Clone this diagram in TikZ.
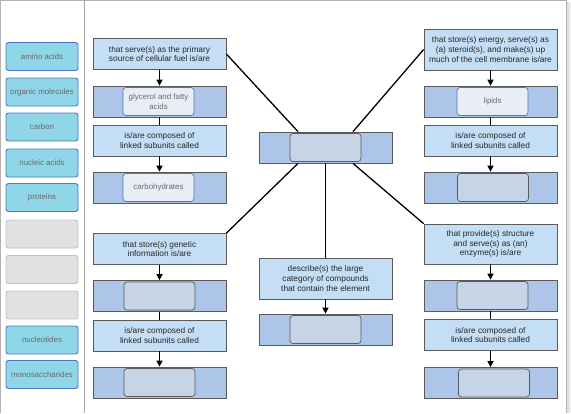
\documentclass[tikz,border=0pt]{standalone}
\usepackage{fontspec}
\setmainfont{Liberation Sans}
\usetikzlibrary{arrows.meta}
\definecolor{bankfill}{HTML}{8FD6E8}
\definecolor{bankedge}{HTML}{4A78C8}
\definecolor{blankfill}{HTML}{E1E1E1}
\definecolor{blankedge}{HTML}{B4C4DC}
\definecolor{askfill}{HTML}{C4DFF5}
\definecolor{bandfill}{HTML}{ADC5E8}
\definecolor{slotfill}{HTML}{C6D4E6}
\definecolor{putfill}{HTML}{E9EDF5}
\definecolor{boxedge}{HTML}{5A5A5A}
\definecolor{labelgrey}{HTML}{6A6A6A}

\begin{document}
\begin{tikzpicture}[x=1pt,y=-1pt,
  font=\fontsize{7.9}{9.6}\selectfont,
  bank/.style={draw=bankedge, fill=bankfill, rounded corners=2.5pt, line width=0.9pt,
    minimum width=72pt, minimum height=28pt, text=labelgrey, inner sep=0pt},
  blank/.style={bank, draw=blankedge, fill=blankfill},
  ask/.style={draw=boxedge, fill=askfill, line width=0.7pt, minimum width=133pt,
    minimum height=31pt, align=center, inner sep=0pt, text=black!85,
    font=\fontsize{8.3}{9.8}\selectfont},
  band/.style={draw=boxedge, fill=bandfill, line width=0.7pt, minimum width=133pt,
    minimum height=31pt},
  slot/.style={draw=boxedge, fill=slotfill, rounded corners=3pt, line width=0.7pt,
    minimum width=71pt, minimum height=28pt, align=center, inner sep=0pt},
  put/.style={slot, draw=bankedge, fill=putfill, text=labelgrey},
  link/.style={line width=1.3pt},
  flow/.style={line width=1.3pt, -{Triangle[length=6pt,width=6pt]}}
]
\useasboundingbox (0,0) rectangle (571,413);

% Frame and divider
\fill[gray!12] (566,2) rectangle (571,413);
\fill[gray!25] (566,2) rectangle (568.5,413);
\draw[gray!60] (0.5,413) -- (0.5,0.5) -- (566,0.5) -- (566,413);
\draw[gray!70, line width=0.8pt] (84,0) -- (84,413);

% Word bank
\node[bank] (amino) at (42,56.5) {amino acids};
\node[bank] (organic) at (42,92) {organic molecules};
\node[bank] (carbon) at (42,127) {carbon};
\node[bank] (nucleic) at (42,163) {nucleic acids};
\node[bank] (proteins) at (42,197.5) {proteins};
\node[blank] (empty1) at (42,234) {};
\node[blank] (empty2) at (42,269.5) {};
\node[blank] (empty3) at (42,305) {};
\node[bank] (nucleotides) at (42,340) {nucleotides};
\node[bank] (monosacch) at (42,374.5) {monosaccharides};

% Centre
\node[band] (centre) at (325.5,147.5) {};
\node[slot] (centreslot) at (325.5,147.5) {};
\node[ask, minimum height=41pt] (describe) at (325.5,278.5)
  {describe(s) the large\\category of compounds\\that contain the element};
\node[band] (element) at (325.5,329.5) {};
\node[slot] (elementslot) at (325.5,329.5) {};

% Left column, top
\node[ask] (fuel) at (159.5,54) {that serve(s) as the primary\\source of cellular fuel is/are};
\node[band] (fuelband) at (159.5,101.5) {};
\node[put] (glycerol) at (158.5,101.5) {glycerol and fatty\\acids};
\node[ask] (fuelsub) at (159.5,140.5) {is/are composed of\\linked subunits called};
\node[band] (fuelsubband) at (159.5,187.5) {};
\node[put] (carbs) at (158.5,187.5) {carbohydrates};

% Left column, bottom
\node[ask] (gene) at (159.5,249) {that store(s) genetic\\information is/are};
\node[band] (geneband) at (159.5,296) {};
\node[slot] (geneslot) at (159.5,296) {};
\node[ask] (genesub) at (159.5,335.5) {is/are composed of\\linked subunits called};
\node[band] (genesubband) at (159.5,382.5) {};
\node[slot] (genesubslot) at (159.5,382.5) {};

% Right column, top
\node[ask, minimum height=41pt] (energy) at (490.5,49.5)
  {that store(s) energy, serve(s) as\\(a) steroid(s), and make(s) up\\much of the cell membrane is/are};
\node[band] (energyband) at (490.5,101.5) {};
\node[put] (lipids) at (492.5,101.5) {lipids};
\node[ask] (energysub) at (490.5,140.5) {is/are composed of\\linked subunits called};
\node[band] (energysubband) at (490.5,187.5) {};
\node[slot] (energysubslot) at (493,187.5) {};

% Right column, bottom
\node[ask, minimum height=40pt] (enzyme) at (490.5,244)
  {that provide(s) structure\\and serve(s) as (an)\\enzyme(s) is/are};
\node[band] (enzymeband) at (490.5,295.5) {};
\node[slot] (enzymeslot) at (492.5,295.5) {};
\node[ask] (enzymesub) at (490.5,335) {is/are composed of\\linked subunits called};
\node[band] (enzymesubband) at (490.5,383) {};
\node[slot] (enzymesubslot) at (494,383) {};

% Connectors
\draw[link] (centre.150) -- (fuel.east);
\draw[link] (centre.30) -- (energy.west);
\draw[link] (centre.210) -- (gene.north east);
\draw[link] (centre.330) -- (enzyme.north west);
\draw[link] (centre.south) -- (describe.north);
\draw[flow] (describe.south) -- (element.north);

\draw[flow] (fuel.south) -- (fuelband.north);
\draw[link] (fuelband.south) -- (fuelsub.north);
\draw[flow] (fuelsub.south) -- (fuelsubband.north);
\draw[flow] (gene.south) -- (geneband.north);
\draw[link] (geneband.south) -- (genesub.north);
\draw[flow] (genesub.south) -- (genesubband.north);
\draw[flow] (energy.south) -- (energyband.north);
\draw[link] (energyband.south) -- (energysub.north);
\draw[flow] (energysub.south) -- (energysubband.north);
\draw[flow] (enzyme.south) -- (enzymeband.north);
\draw[link] (enzymeband.south) -- (enzymesub.north);
\draw[flow] (enzymesub.south) -- (enzymesubband.north);
\end{tikzpicture}
\end{document}
